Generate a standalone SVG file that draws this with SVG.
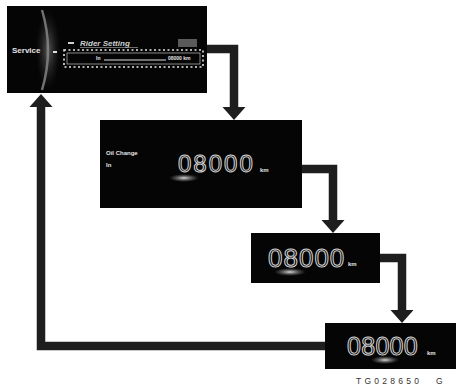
<svg xmlns="http://www.w3.org/2000/svg" width="456" height="387" viewBox="0 0 456 387">
  <defs>
    <style>
      .panel { fill: #050505; }
      .lbl { font-family: "Liberation Sans", Arial, sans-serif; fill: #e4e4e4; font-weight: bold; }
      .big { font-family: "Liberation Sans", Arial, sans-serif; fill: none; stroke: #d6d6d6; stroke-width: 1; }
      .conn { fill: none; stroke: #1e1e1e; stroke-width: 8.5; stroke-linejoin: miter; }
      .cap { font-family: "Liberation Sans", Arial, sans-serif; fill: #333; font-size: 8.5px; }
    </style>
    <marker id="head" markerUnits="userSpaceOnUse" markerWidth="13" markerHeight="23" refX="0" refY="11.5" orient="auto" overflow="visible">
      <path d="M0,0 L13,11.5 L0,23 Z" fill="#1e1e1e"/>
    </marker>
    <radialGradient id="glow" cx="0.5" cy="0.5" r="0.5">
      <stop offset="0" stop-color="#ffffff" stop-opacity="0.85"/>
      <stop offset="0.5" stop-color="#bbbbbb" stop-opacity="0.45"/>
      <stop offset="1" stop-color="#888888" stop-opacity="0"/>
    </radialGradient>
    <radialGradient id="arcglow" cx="0.5" cy="0.5" r="0.5">
      <stop offset="0" stop-color="#aaaaaa" stop-opacity="0.5"/>
      <stop offset="1" stop-color="#444444" stop-opacity="0"/>
    </radialGradient>
  </defs>

  <g id="connectors">
    <path class="conn" d="M207,49 H234 V107" marker-end="url(#head)"/>
    <path class="conn" d="M302,169 H333 V220" marker-end="url(#head)"/>
    <path class="conn" d="M380,258 H402 V310" marker-end="url(#head)"/>
    <path class="conn" d="M325,346 H41 V107" marker-end="url(#head)"/>
  </g>

  <g id="panel-service">
    <rect class="panel" x="7" y="6" width="200" height="87"/>
    <ellipse cx="48" cy="50" rx="12" ry="40" fill="url(#arcglow)"/>
    <path d="M42,10 Q54,50 42,90" fill="none" stroke="#8a8a8a" stroke-width="2.5" opacity="0.8"/>
    <text class="lbl" x="12" y="53" font-size="8" font-weight="normal">Service</text>
    <rect x="53" y="51" width="4" height="2" fill="#e0e0e0"/>
    <rect x="68" y="42" width="6" height="2" fill="#cfcfcf"/>
    <text class="lbl" x="80" y="46" font-size="8" font-style="italic" font-weight="normal" style="fill:#cfcfcf">Rider Setting</text>
    <line x1="80" y1="47.5" x2="138" y2="47.5" stroke="#9a9a9a" stroke-width="0.7"/>
    <rect x="178" y="39" width="19" height="8" fill="#5a5a5a"/>
    <rect x="64" y="50" width="139" height="17" fill="none" stroke="#e6e6e6" stroke-width="1.6" stroke-dasharray="2,2.5"/>
    <rect x="67" y="53" width="133" height="11" fill="none" stroke="#bdbdbd" stroke-width="0.7"/>
    <text class="lbl" x="96" y="60" font-size="5" font-weight="normal">In</text>
    <line x1="104" y1="60" x2="166" y2="60" stroke="#e0e0e0" stroke-width="1"/>
    <text class="lbl" x="168" y="60" font-size="5" font-weight="normal">08000 km</text>
  </g>

  <g id="panel-oil-change">
    <rect class="panel" x="100" y="120" width="202" height="88"/>
    <ellipse cx="184" cy="178" rx="15" ry="4" fill="url(#glow)"/>
    <text class="lbl" x="106" y="155" font-size="6">Oil Change</text>
    <text class="lbl" x="106" y="167" font-size="6">In</text>
    <text class="big" x="178" y="172" font-size="24" letter-spacing="2">08000</text>
    <text class="lbl" x="260" y="172" font-size="6">km</text>
  </g>

  <g id="panel-odo-1">
    <rect class="panel" x="251" y="233" width="129" height="50"/>
    <ellipse cx="290" cy="272" rx="16" ry="4" fill="url(#glow)"/>
    <text class="big" x="268" y="267" font-size="26" letter-spacing="1">08000</text>
    <text class="lbl" x="348" y="266" font-size="6">km</text>
  </g>

  <g id="panel-odo-2">
    <rect class="panel" x="325" y="323" width="131" height="46"/>
    <ellipse cx="385" cy="360" rx="14" ry="4" fill="url(#glow)"/>
    <text class="big" x="347" y="355" font-size="25" letter-spacing="0.3">08000</text>
    <text class="lbl" x="427" y="355" font-size="6">km</text>
  </g>

  <g id="caption">
    <text class="cap" x="356" y="384" textLength="63" lengthAdjust="spacing">TG028650</text>
    <text class="cap" x="436" y="384">G</text>
  </g>
</svg>
